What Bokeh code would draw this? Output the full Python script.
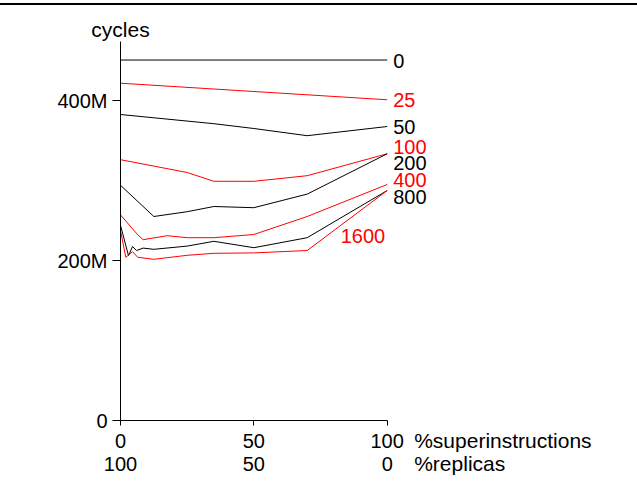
from bokeh.plotting import figure
from bokeh.models import Range1d, LinearAxis, FixedTicker, Div
from bokeh.layouts import column
from bokeh.core.properties import value
from bokeh.embed import file_html
from bokeh.resources import INLINE

# ---- data (x: % superinstructions, y: cycles in millions) ----
names = ["0", "25", "50", "100", "200", "400", "800", "1600"]
colors = ["black", "red", "black", "red", "black", "red", "black", "red"]

x_0 = [0, 100]
y_0 = [450.6, 450.6]
x_25 = [0, 100]
y_25 = [421.6, 400.9]
x_50 = [0, 35, 50, 70, 100]
y_50 = [382.5, 371, 365, 356, 367.5]
x_100 = [0, 25, 35, 50, 70, 100]
y_100 = [326, 310, 299, 299, 306, 333.4]
x_200 = [0, 12.5, 25, 35, 50, 70, 100]
y_200 = [294, 255, 261, 267.5, 266, 283, 333.4]
x_400 = [0, 6.5, 8.5, 17.5, 25, 35, 50, 70, 100]
y_400 = [257, 232, 226, 231, 228.5, 228.5, 232.5, 255, 295]
x_800 = [0, 3, 4.5, 6, 8.5, 12.5, 25, 35, 50, 70, 100]
y_800 = [244, 206, 217.5, 212.5, 215.5, 214, 218, 224, 216, 228.5, 287.5]
x_1600 = [0, 2, 4.5, 6.5, 12.5, 25, 35, 50, 70, 100]
y_1600 = [237.5, 204, 211, 204, 201.5, 206.5, 209, 209.5, 212.5, 287.5]

xs = [x_0, x_25, x_50, x_100, x_200, x_400, x_800, x_1600]
ys = [y_0, y_25, y_50, y_100, y_200, y_400, y_800, y_1600]

x_ticks = [0, 50, 100]
x_tick_labels = ["0", "50", "100"]
x_tick_labels2 = ["100", "50", "0"]
y_ticks = [0, 200, 400]
y_tick_labels = ["0", "200M", "400M"]
y_title = "cycles"
x_title = "%superinstructions"
x_title2 = "%replicas"

# ---- styling / layout ----
FONT = "Liberation Sans"
FS = "20px"
FS_TITLE = "21px"
W, H = 637, 478
ORIGIN_X, ORIGIN_Y = 120, 415   # pixel position of (0, 0) inside the figure
px_per_x = 2.667
px_per_y = 0.8

# series label offsets in pixels (dx, dy, align)
lab_dx = [6, 6, 6, 6, 6, 6, 6, -2]
lab_dy = [1, 0.7, 0.8, -6.3, 9.7, -5, 6.7, 45]
lab_align = ["left"] * 7 + ["right"]

p = figure(width=W, height=H, output_backend="svg", toolbar_location=None,
           x_range=Range1d(-ORIGIN_X / px_per_x, (W - ORIGIN_X) / px_per_x),
           y_range=Range1d(-(H - ORIGIN_Y) / px_per_y, ORIGIN_Y / px_per_y),
           min_border=0, x_axis_location=None, y_axis_location=None)
p.grid.visible = False
p.outline_line_color = None
p.background_fill_color = "white"
p.border_fill_color = "white"

for xv, yv, c in zip(xs, ys, colors):
    p.line(xv, yv, line_color=c, line_width=1)

for xv, yv, n, c, dx, dy, al in zip(xs, ys, names, colors, lab_dx, lab_dy, lab_align):
    p.text(x=[xv[-1]], y=[yv[-1]], text=[n], text_color=c, text_font=value(FONT),
           text_font_size=FS, text_align=al, text_baseline="middle",
           x_offset=dx, y_offset=dy)

def style_axis(ax):
    ax.minor_tick_line_color = None
    ax.major_tick_in = 0
    ax.major_label_text_font = FONT
    ax.major_label_text_font_size = FS
    ax.major_label_text_color = "black"
    ax.axis_line_color = "black"
    ax.major_tick_line_color = "black"

# y axis
ya = LinearAxis(ticker=FixedTicker(ticks=y_ticks),
                major_label_overrides={t: l for t, l in zip(y_ticks, y_tick_labels)},
                bounds=(0, 474), fixed_location=0)
style_axis(ya)
ya.major_tick_out = 8
ya.major_label_standoff = 5
p.add_layout(ya, "left")

# x axis (row 1)
xa = LinearAxis(ticker=FixedTicker(ticks=x_ticks),
                major_label_overrides={t: l for t, l in zip(x_ticks, x_tick_labels)},
                bounds=(0, 100), fixed_location=0)
style_axis(xa)
xa.major_tick_out = 5
xa.major_label_standoff = 8
p.add_layout(xa, "below")

# x axis (row 2, replicas)
xb = LinearAxis(ticker=FixedTicker(ticks=x_ticks),
                major_label_overrides={t: l for t, l in zip(x_ticks, x_tick_labels2)},
                bounds=(0, 100), fixed_location=0)
style_axis(xb)
xb.axis_line_color = None
xb.major_tick_line_color = None
xb.major_tick_out = 0
xb.major_label_standoff = 36
p.add_layout(xb, "below")

# axis titles
p.text(x=[0], y=[489], text=[y_title], text_color="black", text_font=value(FONT),
       text_font_size=FS_TITLE, text_align="center", text_baseline="middle")
p.text(x=[100, 100], y=[0, 0], text=[x_title, x_title2], text_color="black",
       text_font=value(FONT), text_font_size=FS_TITLE, text_align="left",
       text_baseline="middle", x_offset=27, y_offset=[20, 43])

rule = Div(text="", width=637, height=2, margin=(3, 0, 0, 0),
           styles={"background-color": "black"})
layout = column(rule, p, spacing=0)

open("out.html", "w").write(file_html(layout, INLINE))
